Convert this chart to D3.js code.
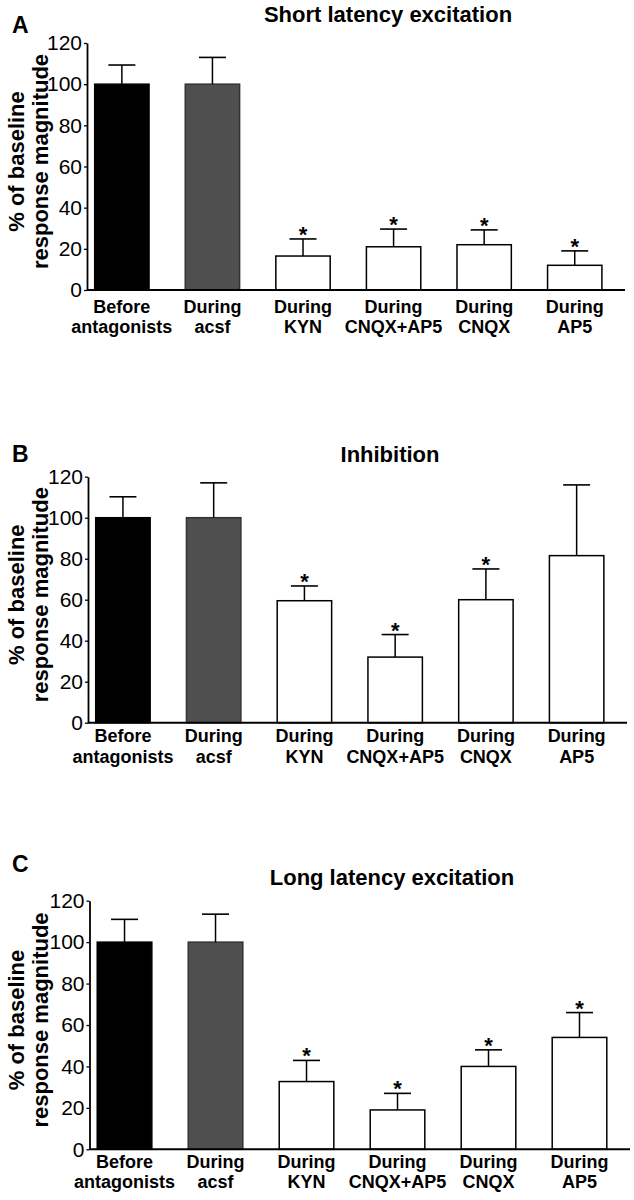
<!DOCTYPE html>
<html>
<head>
<meta charset="utf-8">
<script src="https://cdn.jsdelivr.net/npm/d3@7"></script>
<style>
  html, body { margin: 0; padding: 0; background: #fff; }
  svg { display: block; font-family: "Liberation Sans", Arial, Helvetica, sans-serif; }
</style>
</head>
<body>
<svg id="chart" width="634" height="1200"></svg>
<script>
// ---- Data ----
const categoryLine1 = ["Before", "During", "During", "During", "During", "During"];
const categoryLine2 = ["antagonists", "acsf", "KYN", "CNQX+AP5", "CNQX", "AP5"];
const yTicks = [0, 20, 40, 60, 80, 100, 120];

const shortMeans = [100, 100, 16.5, 21, 22, 12];
const shortSem   = [9.3, 13, 8.3, 8.6, 7.2, 7];
const shortSig   = [false, false, true, true, true, true];

const inhibMeans = [100, 100, 59.5, 32, 60, 81.5];
const inhibSem   = [10.2, 17, 7.2, 11, 15, 34.5];
const inhibSig   = [false, false, true, true, true, false];

const longMeans = [100, 100, 32.7, 19, 40, 54];
const longSem   = [11, 13.5, 10.2, 8, 8, 12];
const longSig   = [false, false, true, true, true, true];

const panelLetters = ["A", "B", "C"];
const panelTitles = ["Short latency excitation", "Inhibition", "Long latency excitation"];

// ---- Layout per panel ----
const layouts = [
  { axisX: 87, axisEnd: 625, y0: 290, y120: 43, titleY: 22, titleX: 388, letterY: 33, lab1: 22.5, lab2: 43 },
  { axisX: 88, axisEnd: 627, y0: 722.7, y120: 476.7, titleY: 462, titleX: 390, letterY: 462, lab1: 19.5, lab2: 40 },
  { axisX: 89.5, axisEnd: 630, y0: 1149.3, y120: 900.7, titleY: 885, titleX: 392, letterY: 872, lab1: 18.5, lab2: 39 }
];

const panels = [
  { means: shortMeans, sem: shortSem, sig: shortSig },
  { means: inhibMeans, sem: inhibSem, sig: inhibSig },
  { means: longMeans, sem: longSem, sig: longSig }
];

const fills = ["#000000", "#4f4f4f", "#ffffff", "#ffffff", "#ffffff", "#ffffff"];
const strokes = ["#000000", "#333333", "#000000", "#000000", "#000000", "#000000"];

const svg = d3.select("#chart");

panels.forEach((p, pi) => {
  const L = layouts[pi];
  const g = svg.append("g");
  const idx = d3.range(categoryLine2.length);

  const x = d3.scaleBand()
    .domain(idx)
    .range([L.axisX, L.axisEnd])
    .paddingInner(0.4)
    .paddingOuter(0.17)
    .align(0.25);

  const y = d3.scaleLinear().domain([0, 120]).range([L.y0, L.y120]);

  // bars
  g.selectAll("rect.bar").data(idx).enter().append("rect")
    .attr("class", "bar")
    .attr("x", i => x(i))
    .attr("width", x.bandwidth())
    .attr("y", i => y(p.means[i]))
    .attr("height", i => y(0) - y(p.means[i]))
    .attr("fill", i => fills[i])
    .attr("stroke", i => strokes[i])
    .attr("stroke-width", 1.5);

  // error bars
  const capW = 27;
  idx.forEach(i => {
    const cx = x(i) + x.bandwidth() / 2;
    const top = y(p.means[i] + p.sem[i]);
    g.append("line")
      .attr("x1", cx).attr("x2", cx)
      .attr("y1", y(p.means[i])).attr("y2", top)
      .attr("stroke", "#000").attr("stroke-width", 1.5);
    g.append("line")
      .attr("x1", cx - capW / 2).attr("x2", cx + capW / 2)
      .attr("y1", top).attr("y2", top)
      .attr("stroke", "#000").attr("stroke-width", 1.6);
    if (p.sig[i]) {
      g.append("text")
        .attr("x", cx).attr("y", top + 3)
        .attr("text-anchor", "middle")
        .attr("font-size", 22)
        .attr("font-weight", "bold")
        .text("*");
    }
  });

  // y axis
  const yAxis = d3.axisLeft(y)
    .tickValues(yTicks)
    .tickSize(3)
    .tickSizeOuter(0)
    .tickPadding(2);
  const ya = g.append("g")
    .attr("transform", `translate(${L.axisX},0)`)
    .call(yAxis);
  ya.attr("font-size", 21).attr("font-family", "\"Liberation Sans\", Arial, sans-serif");
  ya.select(".domain").attr("stroke", "#000").attr("stroke-width", 1.8);
  ya.selectAll(".tick line").attr("stroke", "#000").attr("stroke-width", 1.3);
  ya.selectAll(".tick text")
    .attr("font-size", 21)
    .attr("fill", "#000");

  // x axis line
  g.append("line")
    .attr("x1", L.axisX).attr("x2", L.axisEnd)
    .attr("y1", y(0)).attr("y2", y(0))
    .attr("stroke", "#000").attr("stroke-width", 2);

  // category labels
  idx.forEach(i => {
    const cx = x(i) + x.bandwidth() / 2;
    g.append("text")
      .attr("x", cx).attr("y", y(0) + L.lab1)
      .attr("text-anchor", "middle")
      .attr("font-size", 18).attr("font-weight", "bold")
      .text(categoryLine1[i]);
    g.append("text")
      .attr("x", cx).attr("y", y(0) + L.lab2)
      .attr("text-anchor", "middle")
      .attr("font-size", 18).attr("font-weight", "bold")
      .text(categoryLine2[i]);
  });

  // y axis title (two lines, rotated)
  const cy = (L.y0 + L.y120) / 2 - 5;
  g.append("text")
    .attr("transform", `translate(24,${cy}) rotate(-90)`)
    .attr("text-anchor", "middle")
    .attr("font-size", 22).attr("font-weight", "bold")
    .text("% of baseline");
  g.append("text")
    .attr("transform", `translate(48,${cy}) rotate(-90)`)
    .attr("text-anchor", "middle")
    .attr("font-size", 22).attr("font-weight", "bold")
    .text("response magnitude");

  // title
  g.append("text")
    .attr("x", L.titleX).attr("y", L.titleY)
    .attr("text-anchor", "middle")
    .attr("font-size", 22).attr("font-weight", "bold")
    .text(panelTitles[pi]);

  // panel letter
  g.append("text")
    .attr("x", 12).attr("y", L.letterY)
    .attr("font-size", 23).attr("font-weight", "bold")
    .text(panelLetters[pi]);
});
</script>
</body>
</html>
